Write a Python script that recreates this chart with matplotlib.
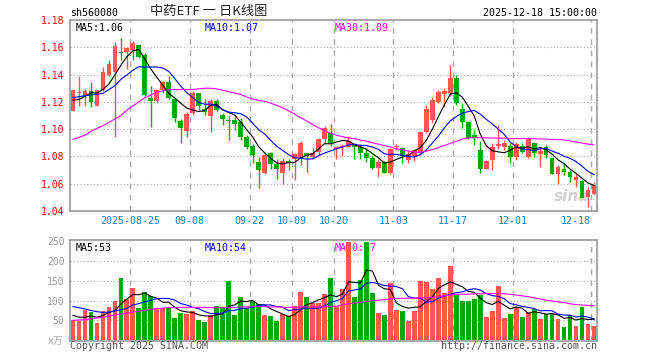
import matplotlib
matplotlib.use("Agg")
import matplotlib.pyplot as plt
import numpy as np
import pandas as pd

plt.rcParams["font.family"] = ["DejaVu Sans Mono", "Noto Sans CJK SC"]

# daily OHLC of 560080, 2025-08-11 .. 2025-12-18
open_ = [1.1135, 1.1265, 1.1243, 1.1280, 1.1173, 1.1285, 1.1400, 1.1418, 1.1560, 1.1563,
         1.1580, 1.1618, 1.1543, 1.1225, 1.1205, 1.1285, 1.1343, 1.1223, 1.1063, 1.0988,
         1.1118, 1.1263, 1.1150, 1.1093, 1.1205, 1.1105, 1.1065, 1.1068, 1.1055, 1.0943,
         1.0873, 1.0760, 1.0675, 1.0822, 1.0741, 1.0680, 1.0770, 1.0783, 1.0783, 1.0822,
         1.0797, 1.0831, 1.0929, 1.0973, 1.0856, 1.0868, 1.0870, 1.0892, 1.0870, 1.0822,
         1.0785, 1.0712, 1.0758, 1.0680, 1.0868, 1.0863, 1.0773, 1.0802, 1.0822, 1.0978,
         1.1070, 1.1200, 1.1255, 1.1263, 1.1373, 1.1148, 1.1055, 1.0957, 1.0847, 1.0708,
         1.0774, 1.0876, 1.0871, 1.0876, 1.0798, 1.0876, 1.0794, 1.0896, 1.0818, 1.0871,
         1.0786, 1.0671, 1.0708, 1.0688, 1.0627, 1.0622, 1.0505, 1.0525]
high = [1.1290, 1.1388, 1.1293, 1.1348, 1.1290, 1.1455, 1.1505, 1.1638, 1.1668, 1.1598,
        1.1643, 1.1620, 1.1555, 1.1318, 1.1293, 1.1355, 1.1393, 1.1230, 1.1073, 1.1123,
        1.1280, 1.1268, 1.1218, 1.1218, 1.1218, 1.1118, 1.1093, 1.1088, 1.1080, 1.0955,
        1.0893, 1.0793, 1.0819, 1.0831, 1.0778, 1.0785, 1.0778, 1.0822, 1.0912, 1.0827,
        1.0871, 1.0936, 1.1022, 1.1041, 1.0880, 1.0888, 1.0953, 1.0900, 1.0888, 1.0856,
        1.0802, 1.0778, 1.0766, 1.0863, 1.0888, 1.0870, 1.0839, 1.0851, 1.0985, 1.1180,
        1.1238, 1.1287, 1.1300, 1.1470, 1.1397, 1.1190, 1.1062, 1.0994, 1.0915, 1.0774,
        1.0896, 1.1027, 1.0920, 1.0896, 1.0908, 1.0896, 1.0945, 1.0908, 1.0871, 1.0884,
        1.0798, 1.0737, 1.0750, 1.0700, 1.0681, 1.0627, 1.0578, 1.0615]
low = [1.1130, 1.1168, 1.1168, 1.1163, 1.1170, 1.1280, 1.1393, 1.0943, 1.1505, 1.1443,
       1.1505, 1.1520, 1.1243, 1.1018, 1.1193, 1.1268, 1.1218, 1.1055, 1.0898, 1.0943,
       1.1105, 1.1143, 1.1105, 1.0980, 1.1130, 1.1030, 1.0918, 1.0993, 1.0918, 1.0855,
       1.0755, 1.0568, 1.0668, 1.0705, 1.0631, 1.0595, 1.0700, 1.0627, 1.0734, 1.0685,
       1.0778, 1.0802, 1.0888, 1.0875, 1.0783, 1.0802, 1.0868, 1.0783, 1.0783, 1.0758,
       1.0705, 1.0648, 1.0675, 1.0668, 1.0846, 1.0753, 1.0749, 1.0766, 1.0814, 1.0973,
       1.1043, 1.1190, 1.1165, 1.1240, 1.1180, 1.1006, 1.0926, 1.0884, 1.0681, 1.0706,
       1.0700, 1.0857, 1.0847, 1.0750, 1.0774, 1.0823, 1.0786, 1.0798, 1.0725, 1.0786,
       1.0671, 1.0598, 1.0664, 1.0615, 1.0578, 1.0493, 1.0432, 1.0517]
close = [1.1285, 1.1273, 1.1280, 1.1198, 1.1285, 1.1418, 1.1475, 1.1610, 1.1558, 1.1593,
         1.1630, 1.1530, 1.1250, 1.1205, 1.1285, 1.1343, 1.1225, 1.1085, 1.1010, 1.1113,
         1.1268, 1.1168, 1.1125, 1.1205, 1.1143, 1.1073, 1.1060, 1.1038, 1.0943, 1.0868,
         1.0810, 1.0698, 1.0814, 1.0741, 1.0705, 1.0766, 1.0749, 1.0819, 1.0900, 1.0802,
         1.0827, 1.0929, 1.1010, 1.0895, 1.0870, 1.0880, 1.0912, 1.0868, 1.0822, 1.0785,
         1.0717, 1.0758, 1.0680, 1.0856, 1.0880, 1.0802, 1.0819, 1.0846, 1.0978, 1.1144,
         1.1210, 1.1274, 1.1280, 1.1373, 1.1194, 1.1055, 1.0933, 1.0933, 1.0706, 1.0767,
         1.0871, 1.0891, 1.0900, 1.0794, 1.0890, 1.0835, 1.0933, 1.0827, 1.0842, 1.0811,
         1.0671, 1.0725, 1.0684, 1.0647, 1.0651, 1.0493, 1.0554, 1.0591]
# volume, 10k lots
volume = [50, 48, 76, 71, 44, 74, 85, 98, 156, 105, 133, 82, 121, 112, 82, 82, 82, 57, 69, 67,
          75, 51, 46, 63, 87, 84, 149, 63, 110, 82, 99, 92, 63, 61, 48, 67, 61, 87, 122, 110,
          95, 95, 116, 156, 87, 129, 249, 108, 151, 248, 118, 69, 63, 144, 76, 74, 48, 74, 149, 146,
          129, 156, 118, 187, 116, 98, 98, 105, 114, 59, 74, 138, 57, 67, 84, 59, 71, 78, 54, 67,
          67, 54, 34, 63, 37, 85, 42, 37]

# moving averages that need history before the window
ma5_head = [1.1212, 1.1218, 1.1240, 1.1267]
ma10_head = [1.1230, 1.1238, 1.1245, 1.1250, 1.1255, 1.1263, 1.1290, 1.1318, 1.1365]
ma30 = [1.0925, 1.0940, 1.0955, 1.0985, 1.1005, 1.1025, 1.1050, 1.1075, 1.1100, 1.1140,
        1.1170, 1.1200, 1.1230, 1.1250, 1.1270, 1.1280, 1.1290, 1.1290, 1.1290, 1.1290,
        1.1290, 1.1295, 1.1300, 1.1300, 1.1295, 1.1285, 1.1275, 1.1265, 1.1255, 1.1235,
        1.1220, 1.1210, 1.1205, 1.1190, 1.1175, 1.1156, 1.1135, 1.1110, 1.1085, 1.1060,
        1.1035, 1.1010, 1.0990, 1.0970, 1.0955, 1.0945, 1.0936, 1.0930, 1.0920, 1.0912,
        1.0900, 1.0890, 1.0880, 1.0870, 1.0856, 1.0848, 1.0840, 1.0832, 1.0830, 1.0838,
        1.0850, 1.0865, 1.0880, 1.0895, 1.0910, 1.0928, 1.0935, 1.0937, 1.0937, 1.0936,
        1.0935, 1.0934, 1.0933, 1.0932, 1.0931, 1.0931, 1.0930, 1.0929, 1.0928, 1.0927,
        1.0925, 1.0923, 1.0921, 1.0915, 1.0905, 1.0898, 1.0890, 1.0885]
vma5_head = [63, 58, 58, 61]
vma10_head = [85, 82, 79, 75, 72, 70, 71, 74, 77]
vma30 = [50, 51, 52, 54, 56, 58, 61, 63, 66, 68, 71, 73, 75, 78, 80, 81, 82, 82, 83, 83,
         83, 83, 83, 82, 82, 82, 83, 83, 84, 84, 85, 85, 85, 84, 84, 83, 83, 83, 84, 84,
         84, 84, 85, 85, 86, 89, 92, 94, 95, 98, 100, 101, 102, 104, 106, 106, 106, 106, 107, 107,
         108, 110, 112, 114, 116, 116, 116, 117, 117, 118, 118, 118, 117, 116, 114, 112, 110, 107, 104, 101,
         99, 97, 95, 92, 90, 89, 88, 87]

tick_dates = ["2025-08-25", "2025-09-08", "2025-09-22", "2025-10-09", "2025-10-20",
              "2025-11-03", "2025-11-17", "2025-12-01", "2025-12-18"]

RED = "#ff5656"
GREEN = "#00a800"
GRID = "#aaaaaa"
FRAME = "#999999"


def rolling_with_head(values, n, head):
    ma = pd.Series(values, dtype=float).rolling(n).mean().to_numpy()
    ma[: len(head)] = head
    return ma


days = pd.bdate_range("2025-08-11", "2025-12-18")
days = days[(days < "2025-10-01") | (days > "2025-10-08")]
x = np.arange(len(days))
o, h, l, c = map(np.array, (open_, high, low, close))
up = c >= o
colors = np.where(up, RED, GREEN)
tick_idx = [days.get_loc(pd.Timestamp(d)) for d in tick_dates]

fig = plt.figure(figsize=(6.6, 3.6), dpi=100)
ax = fig.add_axes([70 / 660, 149 / 360, 527 / 660, 191 / 360])
axv = fig.add_axes([70 / 660, 19 / 360, 527 / 660, 101 / 360])

for a in (ax, axv):
    a.set_xlim(-0.5, len(x) - 0.5)
    a.set_xticks([])
    for s in a.spines.values():
        s.set_color(FRAME)
        s.set_linewidth(1.2)
    a.tick_params(axis="y", length=0, labelsize=7, pad=4)
    for t in tick_idx:
        a.axvline(t - 0.5, color=GRID, lw=1, ls=(0, (4, 4)), zorder=0)

# price panel
ax.set_ylim(1.04, 1.18)
for y in [1.06, 1.08, 1.10, 1.12, 1.14, 1.16]:
    ax.axhline(y, color=GRID, lw=0.8, ls=(0, (1, 2)), zorder=0)
ax.set_yticks([1.04, 1.06, 1.08, 1.10, 1.12, 1.14, 1.16, 1.18])
ax.set_yticklabels([f"{v:.2f}" for v in ax.get_yticks()], color="#ff0000")

ax.vlines(x, l, h, colors=colors, lw=1, zorder=2)
body = np.maximum(np.abs(c - o), 0.0005)
ax.bar(x, body, bottom=np.minimum(o, c), width=0.8, color=colors, lw=0, zorder=3)

ma5 = rolling_with_head(close, 5, ma5_head)
ma10 = rolling_with_head(close, 10, ma10_head)
ax.plot(x, ma5, color="black", lw=0.8, zorder=4)
ax.plot(x, ma10, color="#0000ff", lw=0.8, zorder=4)
ax.plot(x, ma30, color="#ff00ff", lw=0.8, zorder=4)

ax.text(0.01, 0.985, f"MA5:{ma5[-1]:.2f}", transform=ax.transAxes, fontsize=7.2,
        va="top", color="black")
ax.text(0.255, 0.985, f"MA10:{ma10[-1]:.2f}", transform=ax.transAxes, fontsize=7.2,
        va="top", color="#0000ff")
ax.text(0.503, 0.985, f"MA30:{ma30[-1]:.2f}", transform=ax.transAxes, fontsize=7.2,
        va="top", color="#ff00ff")
ax.text(0.985, 0.05, "sina", transform=ax.transAxes, fontsize=11, ha="right",
        color="#d0d0d0", style="italic", weight="bold", family="DejaVu Sans", zorder=1)

for t, d in zip(tick_idx, tick_dates):
    label = d if t == tick_idx[0] else d[5:]
    ha = "right" if t == tick_idx[-1] else "center"
    ax.text(t - 0.5, 1.04 - 0.0075, label, ha=ha, va="center", fontsize=7.2,
            color="#0a80c8")

# volume panel
axv.set_ylim(-2, 253)
for y in [50, 100, 150, 200]:
    axv.axhline(y, color=GRID, lw=0.8, ls=(0, (1, 2)), zorder=0)
axv.set_yticks([50, 100, 150, 200, 250])
axv.set_yticklabels(["50", "100", "150", "200", "250"], color="#999999")
axv.bar(x, volume, width=0.8, color=colors, lw=0, zorder=3)

vma5 = rolling_with_head(volume, 5, vma5_head)
vma10 = rolling_with_head(volume, 10, vma10_head)
axv.plot(x, vma5, color="black", lw=0.8, zorder=4)
axv.plot(x, vma10, color="#0000ff", lw=0.8, zorder=4)
axv.plot(x, vma30, color="#ff00ff", lw=0.8, zorder=4)

axv.text(0.01, 0.975, f"MA5:{vma5[-1]:.0f}", transform=axv.transAxes, fontsize=7.2,
         va="top", color="black", zorder=1)
axv.text(0.255, 0.975, f"MA10:{vma10[-1]:.0f}", transform=axv.transAxes, fontsize=7.2,
         va="top", color="#0000ff", zorder=1)
axv.text(0.503, 0.975, f"MA30:{vma30[-1]:.0f}", transform=axv.transAxes, fontsize=7.2,
         va="top", color="#ff00ff", zorder=1)
axv.text(-0.012, 0.0, "x万", transform=axv.transAxes, ha="right", va="center",
         fontsize=7, color="#aaaaaa")

# header / footer
fig.text(70 / 660, 1 - 13 / 360, "sh560080", fontsize=7.2, va="center", color="black")
fig.text(209 / 660, 1 - 12 / 360, "中药ETF 一 日K线图", fontsize=9.5, ha="center",
         va="center", color="#222222", family=["Noto Sans CJK SC", "DejaVu Sans"])
fig.text(597 / 660, 1 - 13 / 360, "2025-12-18 15:00:00", fontsize=7.2, ha="right",
         va="center", color="black")
fig.text(70 / 660, 1 - 346 / 360, "Copyright 2025 SINA.COM", fontsize=7.2, va="center",
         color="#555555")
fig.text(597 / 660, 1 - 346 / 360, "http://finance.sina.com.cn", fontsize=7.2, ha="right",
         va="center", color="#555555")

fig.savefig("out.png", dpi=100)
